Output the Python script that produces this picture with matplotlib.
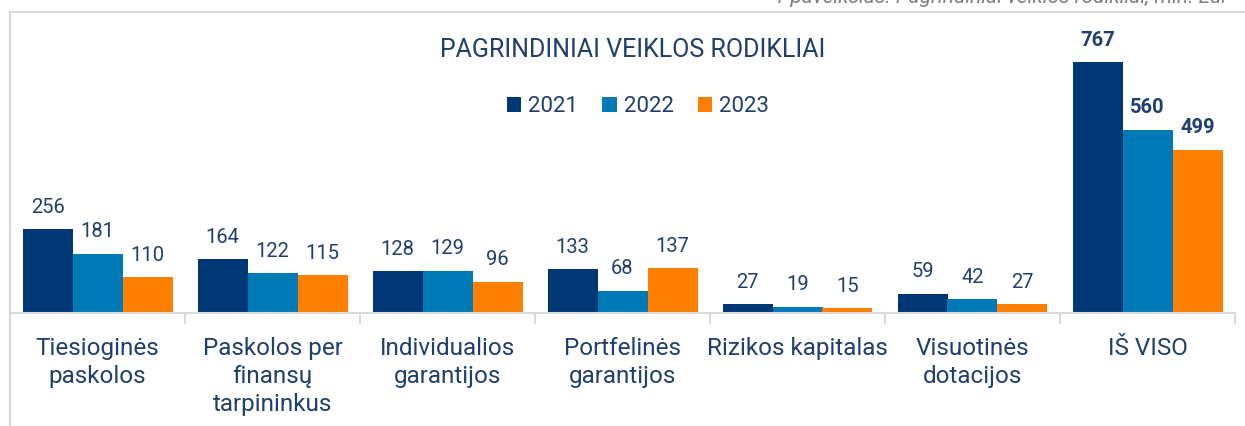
import numpy as np
import matplotlib.pyplot as plt
from matplotlib.lines import Line2D

plt.rcParams['font.family'] = ['Roboto', 'DejaVu Sans']

categories = ['Tiesioginės\npaskolos', 'Paskolos per\nfinansų\ntarpininkus',
              'Individualios\ngarantijos', 'Portfelinės\ngarantijos',
              'Rizikos kapitalas', 'Visuotinės\ndotacijos', 'IŠ VISO']
years = ['2021', '2022', '2023']
v2021 = [256, 164, 128, 133, 27, 59, 767]
v2022 = [181, 122, 129, 68, 19, 42, 560]
v2023 = [110, 115, 96, 137, 15, 27, 499]

colors = ['#003876', '#0079b7', '#ff8000']
txt = '#1f3f6e'
grid_c = '#d9d9d9'

W, H = 1245, 426
fig = plt.figure(figsize=(W / 100, H / 100), dpi=100)
ax = fig.add_axes([10 / W, (H - 313) / H, 1225 / W, 301 / H])

x = np.arange(len(categories))
bw = 50 / 175
series = [v2021, v2022, v2023]
for i, (vals, c, yr) in enumerate(zip(series, colors, years)):
    pos = x + (i - 1) * bw
    ax.bar(pos, vals, width=bw, color=c, label=yr, zorder=2)
    for j, (p, v) in enumerate(zip(pos, vals)):
        bold = j == len(categories) - 1
        ax.annotate(str(v), (p, v), xytext=(0, 9), textcoords='offset points',
                    ha='center', va='bottom', fontsize=14.5, color=txt,
                    fontweight='bold' if bold else 'normal')

ax.set_xlim(-0.5, len(categories) - 0.5)
ax.set_ylim(0, 920)
ax.set_yticks([])
for s in ['left', 'right', 'top']:
    ax.spines[s].set_visible(False)
ax.spines['bottom'].set_color(grid_c)
ax.spines['bottom'].set_linewidth(1.5)

ax.set_xticks(x)
ax.set_xticklabels(categories, fontsize=17.5, color=txt, linespacing=1.28, va='top')
ax.tick_params(axis='x', which='major', length=0, pad=17)
ax.set_xticks(np.arange(len(categories) + 1) - 0.5, minor=True)
ax.tick_params(axis='x', which='minor', length=8, width=1.5, color=grid_c)

fig.text(633 / W, (H - 50) / H, 'PAGRINDINIAI VEIKLOS RODIKLIAI', ha='center', va='center',
         fontsize=18, color=txt)

leg = fig.legend(loc='center', bbox_to_anchor=(638 / W, (H - 107) / H), ncol=3,
                 frameon=False, fontsize=16, handlelength=0.65, handleheight=0.65,
                 handletextpad=0.3, columnspacing=1.1)
for t in leg.get_texts():
    t.set_color(txt)

# outer frame lines
fig.add_artist(Line2D([10 / W, 10 / W], [0, (H - 12) / H], color=grid_c, lw=1.5,
                      transform=fig.transFigure))
fig.add_artist(Line2D([10 / W, 1], [(H - 12) / H, (H - 12) / H], color=grid_c, lw=1.5,
                      transform=fig.transFigure))

# caption above, cut off by the top edge as in the source
fig.text(1228 / W, (H - 3) / H, '1 paveikslas. Pagrindiniai veiklos rodikliai, mln. Eur',
         ha='right', va='baseline', fontsize=15, style='italic', color='#7f7f7f')

fig.savefig('out.png', dpi=100)
